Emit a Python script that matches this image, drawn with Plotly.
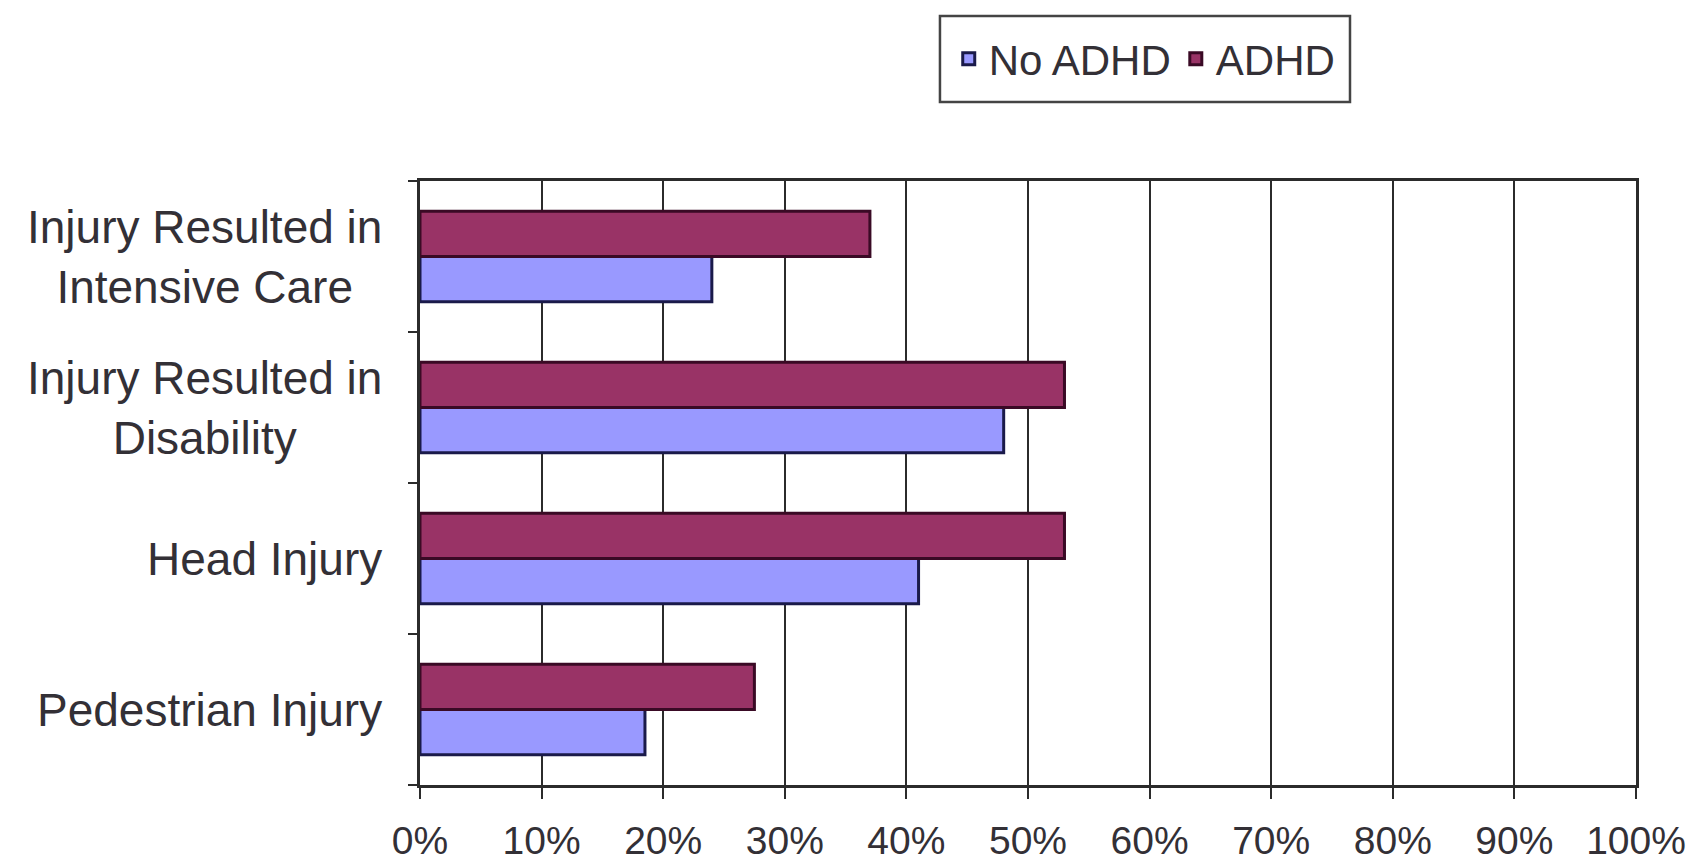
import plotly.graph_objects as go

# Injury outcomes, listed bottom-to-top as they appear on the axis
categories = [
    "Pedestrian Injury",
    "Head Injury",
    "Injury Resulted in<br>Disability",
    "Injury Resulted in<br>Intensive Care",
]
no_adhd = [18.5, 41, 48, 24]
adhd = [27.5, 53, 53, 37]
x_ticks = list(range(0, 101, 10))
x_tick_labels = [f"{v}%" for v in x_ticks]

FONT = "Arial, Liberation Sans, sans-serif"
TEXT = "#333036"
LINE = "#2b2b2b"

fig = go.Figure()
fig.add_trace(go.Bar(
    y=categories, x=no_adhd, name="No ADHD", orientation="h",
    marker=dict(color="#9999FF", line=dict(color="#1a1a4a", width=3)),
))
fig.add_trace(go.Bar(
    y=categories, x=adhd, name="ADHD", orientation="h",
    marker=dict(color="#993366", line=dict(color="#3a0a25", width=3)),
))

# Category labels centred line-by-line to the left of the axis
for cat in categories:
    fig.add_annotation(
        x=0, xref="paper", y=cat, yref="y",
        text=cat, showarrow=False, align="center",
        xanchor="right", yanchor="middle", xshift=-36,
        font=dict(family=FONT, size=46, color=TEXT),
    )

# Frame around the legend
fig.add_shape(
    type="rect", xref="paper", yref="paper",
    x0=0.4276, x1=0.7648, y0=1.131, y1=1.273,
    line=dict(color="#444444", width=2.5), fillcolor="rgba(0,0,0,0)",
)

fig.update_layout(
    width=1691, height=862,
    margin=dict(l=420, r=55, t=181, b=77),
    paper_bgcolor="white", plot_bgcolor="white",
    barmode="group", bargap=0.4, bargroupgap=0.0,
    font=dict(family=FONT, size=40, color=TEXT),
    legend=dict(
        orientation="h", x=0.596, xanchor="center", y=1.202, yanchor="middle",
        borderwidth=0, bgcolor="rgba(0,0,0,0)",
        font=dict(family=FONT, size=42, color=TEXT),
        traceorder="normal", itemwidth=30,
    ),
    showlegend=True,
)

fig.update_xaxes(
    range=[0, 100], tickvals=x_ticks, ticktext=x_tick_labels,
    showgrid=True, gridcolor=LINE, gridwidth=2,
    showline=True, linecolor=LINE, linewidth=3, mirror=True,
    ticks="outside", ticklen=11, tickwidth=2, tickcolor=LINE,
    ticklabelstandoff=8, automargin=False,
    tickfont=dict(family=FONT, size=39, color=TEXT),
    zeroline=False,
)
fig.update_yaxes(
    categoryorder="array", categoryarray=categories,
    showticklabels=False, showgrid=False, automargin=False,
    showline=True, linecolor=LINE, linewidth=3, mirror=True,
    ticks="outside", tickson="boundaries", ticklen=9, tickwidth=2, tickcolor=LINE,
)

fig.write_html("out.html")
